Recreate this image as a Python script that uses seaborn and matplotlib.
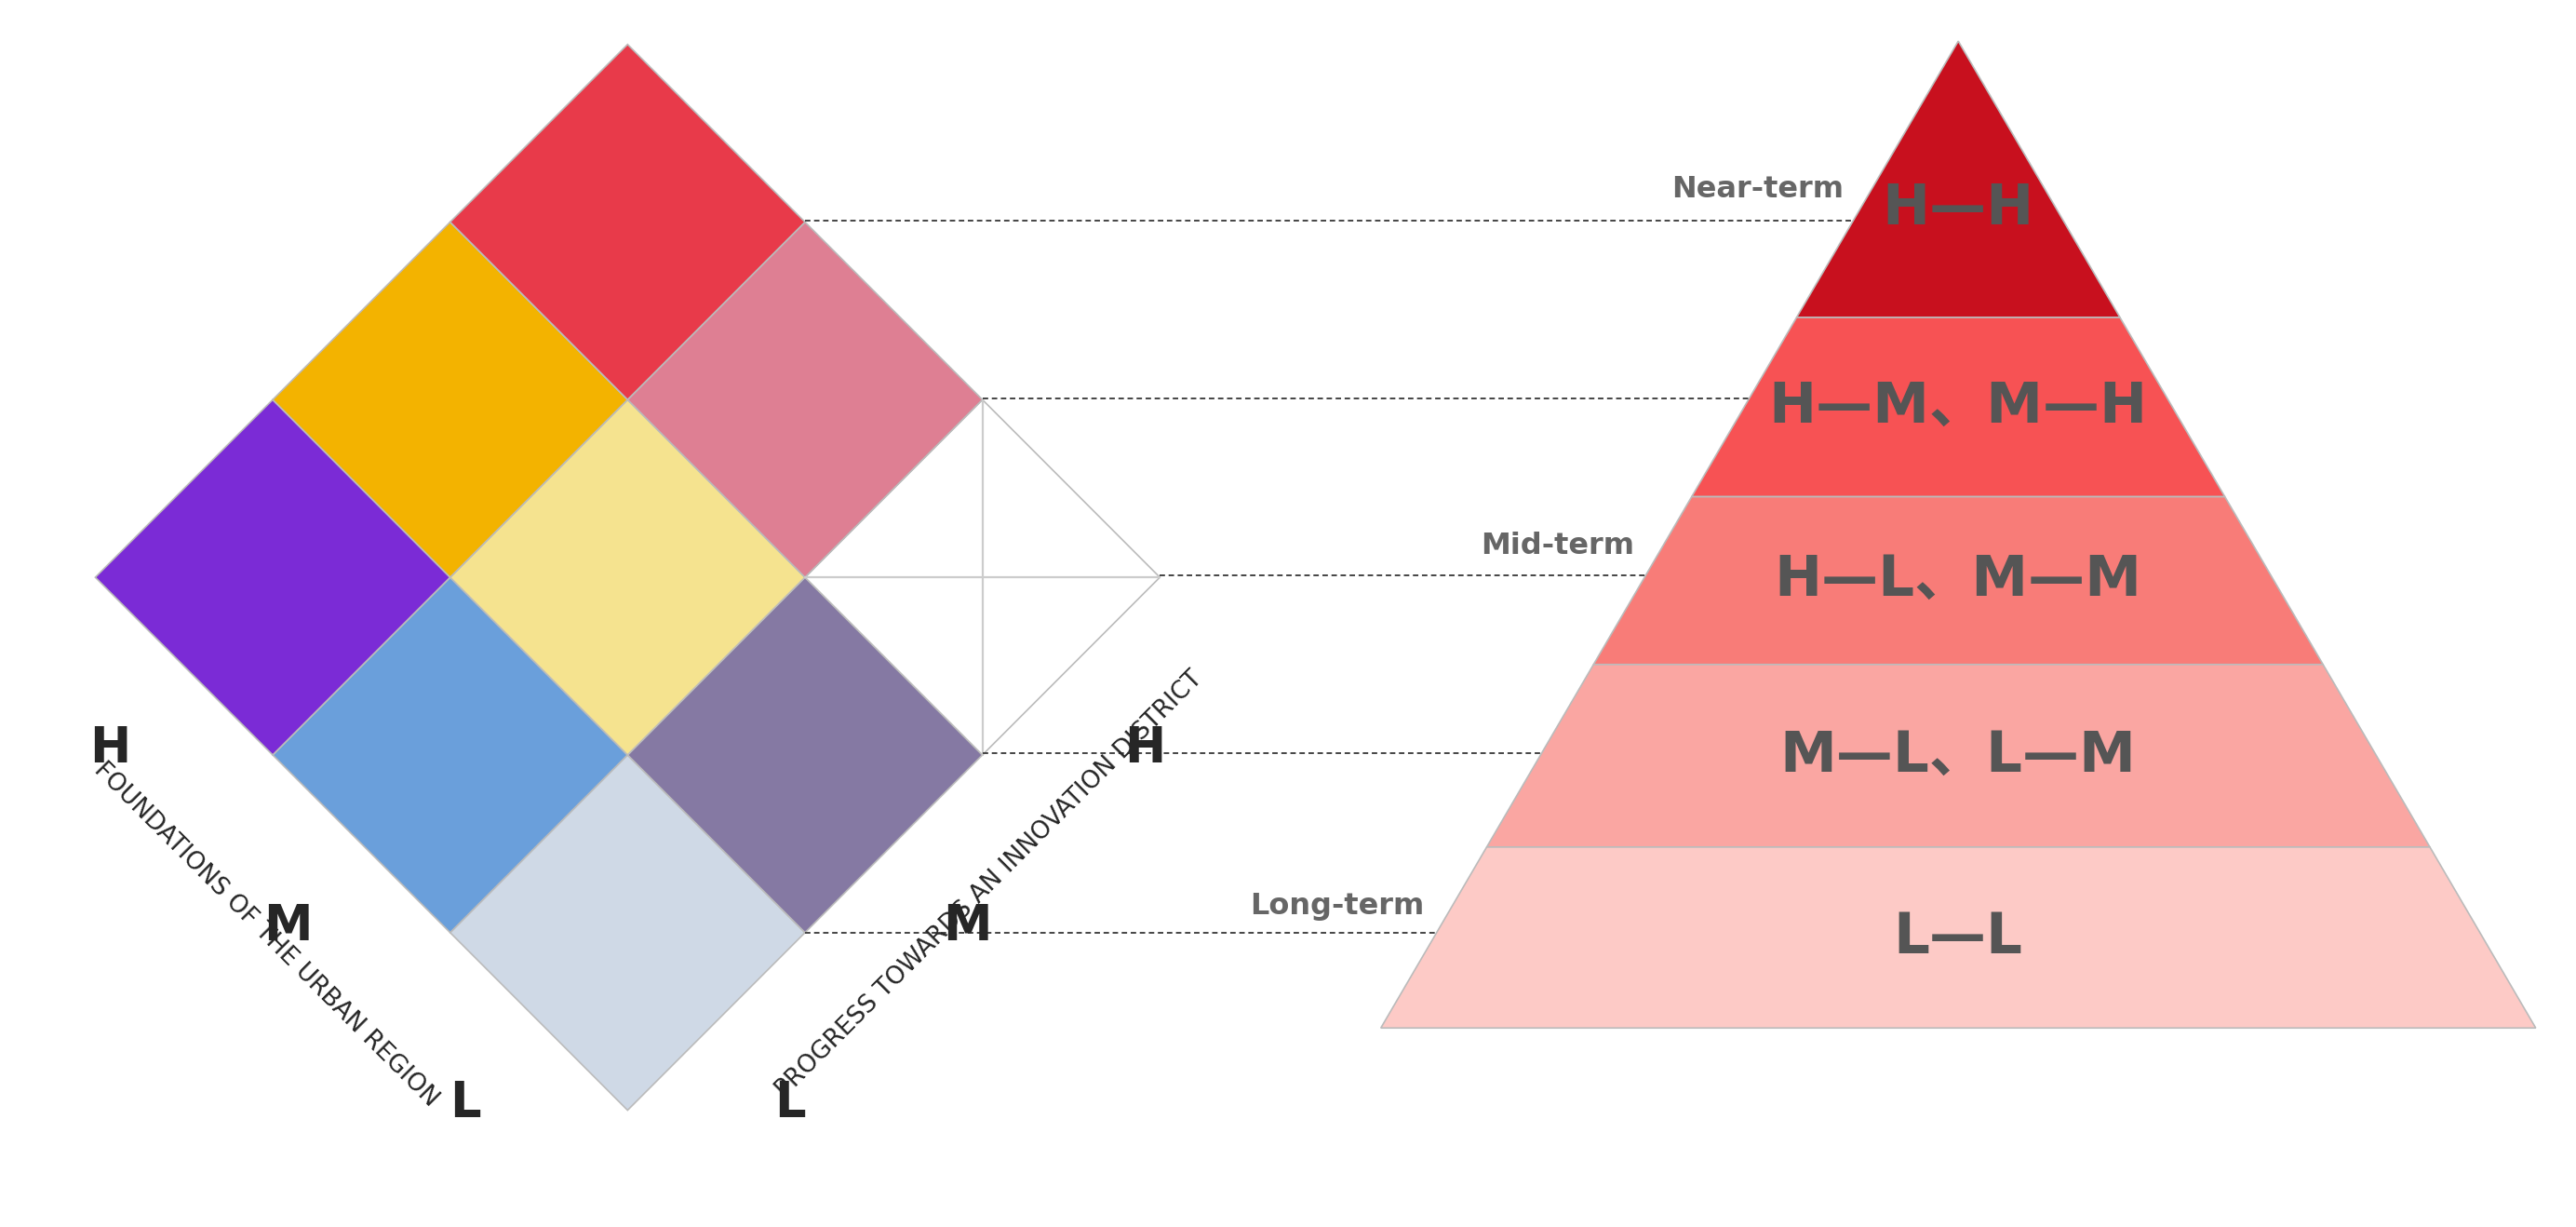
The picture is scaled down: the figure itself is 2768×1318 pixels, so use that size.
import numpy as np
import matplotlib.pyplot as plt
import seaborn as sns
from matplotlib.patches import Polygon

sns.set_theme(style="white")
plt.rcParams['font.family'] = ['DejaVu Sans', 'Noto Sans CJK SC']

# matrix cells: (foundation level, progress level, colour)
levels = ['L', 'M', 'H']
cell_found = [0, 1, 2, 0, 1, 2, 0, 1, 2]
cell_prog = [0, 0, 0, 1, 1, 1, 2, 2, 2]
cell_colors = ['#cfd9e6', '#6a9fdb', '#7b2bd6',
               '#8579a3', '#f5e38f', '#f3b300',
               '#ffffff', '#de7f93', '#e83a4a']

# pyramid bands, top to bottom
band_labels = ['H—H', 'H—M、M—H', 'H—L、M—M', 'M—L、L—M', 'L—L']
band_colors = ['#c8101e', '#f75254', '#f87c78', '#faa6a2', '#fdcac6']
band_edges = [25, 193, 302, 404, 515, 625]   # y of apex, band borders, base
term_labels = ['Near-term', 'Mid-term', 'Long-term']

W, H = 1568, 746
fig = plt.figure(figsize=(13.84, 6.59), dpi=200)
ax = fig.add_axes([0, 0, 1, 1])
ax.set_xlim(0, W)
ax.set_ylim(H, 0)
ax.axis('off')

# diamond geometry
bx, by, s = 382, 675, 108


def pt(f, p):
    return (bx - s * f + s * p, by - s * f - s * p)


for f, p, c in zip(cell_found, cell_prog, cell_colors):
    poly = [pt(f, p), pt(f + 1, p), pt(f + 1, p + 1), pt(f, p + 1)]
    ax.add_patch(Polygon(poly, closed=True, facecolor=c, edgecolor='#bbbbbb', lw=0.6))
    if c == '#ffffff':
        ax.plot([pt(f, p)[0], pt(f + 1, p + 1)[0]], [pt(f, p)[1], pt(f + 1, p + 1)[1]],
                color='#cccccc', lw=0.8)
        ax.plot([pt(f + 1, p)[0], pt(f, p + 1)[0]], [pt(f + 1, p)[1], pt(f, p + 1)[1]],
                color='#cccccc', lw=0.8)

# level letters along the two lower sides
for i, lv in enumerate(levels):
    x, y = pt(i + 0.5, 0)
    ax.text(x - 45, y + 50, lv, fontsize=19, fontweight='bold', ha='center', va='center')
    x, y = pt(0, i + 0.5)
    ax.text(x + 45, y + 50, lv, fontsize=19, fontweight='bold', ha='center', va='center')

ax.text(162, 568, 'FOUNDATIONS OF THE URBAN REGION', rotation=-45, fontsize=9.5,
        ha='center', va='center', rotation_mode='anchor')
ax.text(602, 538, 'PROGRESS TOWARDS AN INNOVATION DISTRICT', rotation=45, fontsize=9.5,
        ha='center', va='center', rotation_mode='anchor')

# pyramid
apx, base_l, base_r, base_y = 1192, 840, 1543, 625
half = (base_r - base_l) / 2


def edge_x(y):
    return (apx - half * (y - 25) / (base_y - 25), apx + half * (y - 25) / (base_y - 25))


for k, (lab, c) in enumerate(zip(band_labels, band_colors)):
    y0, y1 = band_edges[k], band_edges[k + 1]
    l0, r0 = edge_x(y0)
    l1, r1 = edge_x(y1)
    ax.add_patch(Polygon([(l0, y0), (r0, y0), (r1, y1), (l1, y1)], closed=True,
                         facecolor=c, edgecolor='#bbbbbb', lw=0.6))
    ax.text(apx, (y0 + y1) / 2 + (18 if k == 0 else 0), lab, fontsize=22, fontweight='bold',
            color='#555555', ha='center', va='center',
            family=['DejaVu Sans', 'Noto Sans CJK SC'])

# dashed connectors
conn_y = [134, 242, 350, 458, 567]
conn_x0 = [490, 598, 706, 598, 490]
for y, x0 in zip(conn_y, conn_x0):
    ax.plot([x0, edge_x(y)[0]], [y, y], ls='--', color='#444444', lw=0.7, dashes=(3, 2))

for y, lab in zip([115, 332, 551], term_labels):
    ax.text(edge_x(y + 19)[0] - 6, y, lab, fontsize=11.5, fontweight='bold',
            color='#666666', ha='right', va='center')

plt.savefig('out.png', dpi=200)
